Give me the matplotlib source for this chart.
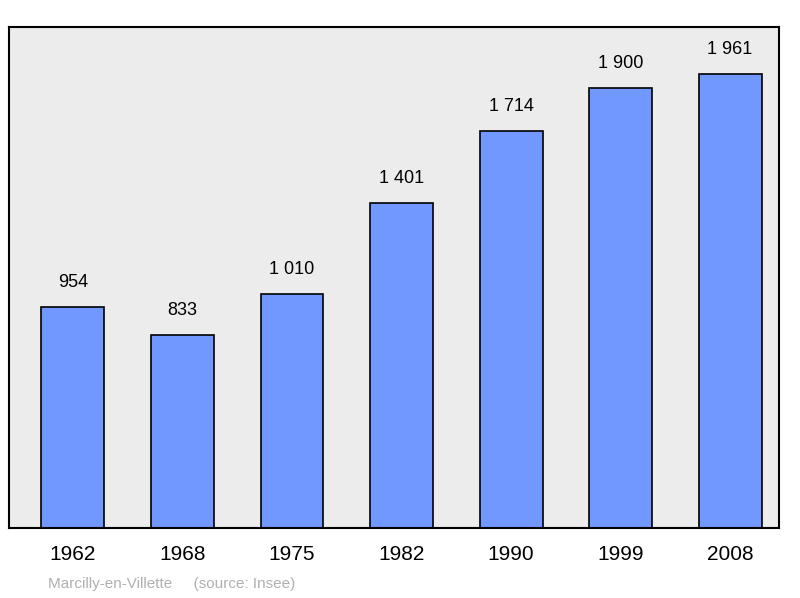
import matplotlib.pyplot as plt

years = ['1962', '1968', '1975', '1982', '1990', '1999', '2008']
population = [954, 833, 1010, 1401, 1714, 1900, 1961]
labels = ['954', '833', '1 010', '1 401', '1 714', '1 900', '1 961']

plt.rcParams['font.family'] = ['Liberation Sans', 'DejaVu Sans']

fig = plt.figure(figsize=(8, 5.98), dpi=100)
ax = fig.add_axes([9 / 800, 1 - 528 / 598, 770 / 800, 501 / 598])
ax.set_facecolor('#ececec')

x = range(len(years))
ax.bar(x, population, width=0.575, color='#7098ff', edgecolor='black', linewidth=1.2)
for i, (v, t) in enumerate(zip(population, labels)):
    ax.text(i, v + 70, t, ha='center', va='bottom', fontsize=13)

ax.set_xlim(-0.584, 6.447)
ax.set_ylim(0, 2163)
ax.set_yticks([])
ax.set_xticks(list(x))
ax.set_xticklabels(years, fontsize=15)
ax.tick_params(axis='x', length=0, pad=12)
for s in ax.spines.values():
    s.set_linewidth(1.5)

fig.text(48 / 800, 1 - 584 / 598, 'Marcilly-en-Villette     (source: Insee)',
         fontsize=11, color='#b0b0b0', va='center')

fig.savefig('out.png', dpi=100)
